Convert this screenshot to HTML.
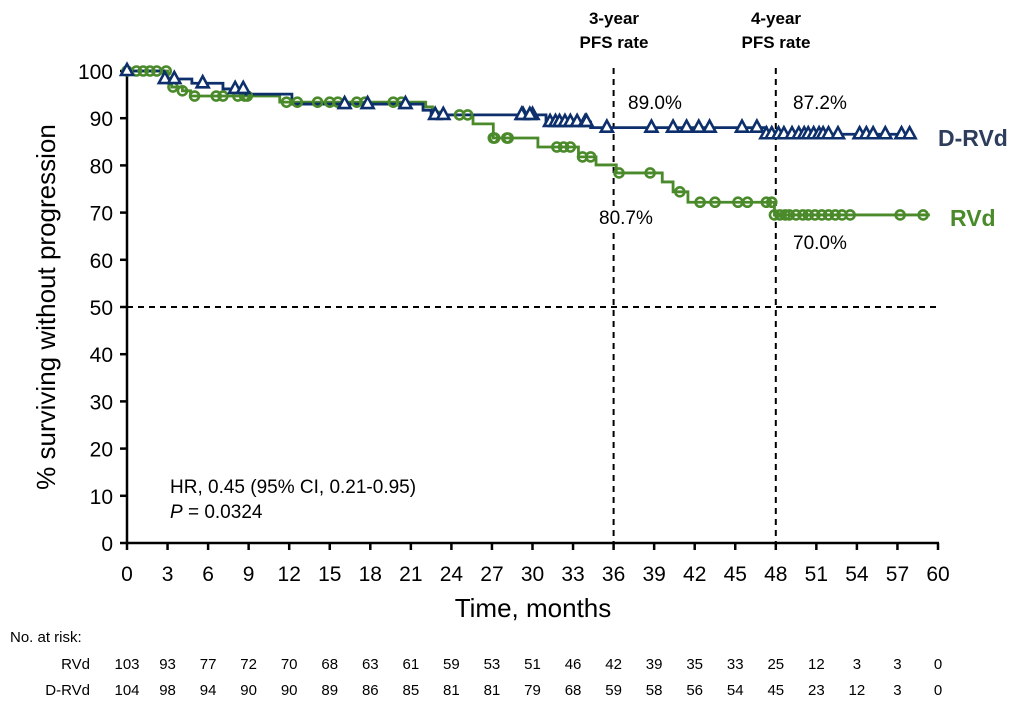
<!DOCTYPE html>
<html><head><meta charset="utf-8"><style>
body{margin:0;background:#fff;}
svg{display:block;font-family:"Liberation Sans",Arial,sans-serif;}
</style></head><body>
<svg id="chart" width="1021" height="707"></svg>
<script>
const xTicks=[0,3,6,9,12,15,18,21,24,27,30,33,36,39,42,45,48,51,54,57,60];
const yTicks=[0,10,20,30,40,50,60,70,80,90,100];
const drvdStepT=[0,2.7,4.8,7.1,8.7,12.2,21.9,22.5,31,34.3,47.3,58];
const drvdStepV=[100,98.3,97.4,96.2,95.1,93.0,91.7,90.7,89.2,88.0,86.6,86.6];
const drvdCens=[0,2.8,3.5,5.6,8.0,8.6,16.1,17.8,20.6,22.8,23.4,29.3,30.0,29.2,29.8,31.3,31.7,32.0,32.4,32.8,33.3,33.9,34.0,35.5,38.8,40.4,41.4,42.3,43.1,45.5,46.6,47.3,47.7,48.2,48.6,49.2,49.7,50.1,50.4,50.8,51.2,51.5,51.9,52.6,54.2,54.7,55.2,56.1,57.3,57.9];
const rvdStepT=[0,3.0,3.3,4.1,4.7,11.3,22.1,22.6,23.2,25.6,27.1,30.4,33.4,34.7,36.2,39.6,40.4,41.5,47.9,59.4];
const rvdStepV=[100,98.5,96.6,95.8,94.7,93.4,92.4,91.3,90.7,88.8,85.8,83.9,81.8,80.1,78.4,76.5,74.4,72.2,69.5,69.5];
const rvdCens=[0,0.7,1.2,1.7,2.2,2.9,3.4,4.1,5.0,6.6,7.1,8.2,8.7,8.9,11.8,12.6,14.1,15.0,15.6,17.0,17.6,19.7,20.3,24.6,25.2,27.2,28.1,27.1,28.2,31.8,32.3,32.8,33.7,34.3,36.4,38.7,40.9,42.4,43.5,45.2,45.9,47.3,47.7,47.9,48.3,48.7,49.0,49.5,50.0,50.4,50.9,51.4,51.9,52.4,52.9,53.5,57.2,58.9];
const riskRVd=[103,93,77,72,70,68,63,61,59,53,51,46,42,39,35,33,25,12,3,3,0];
const riskDRVd=[104,98,94,90,90,89,86,85,81,81,79,68,59,58,56,54,45,23,12,3,0];
const X0=127,X1=938,Y0=543,Y1=71;
const sx=t=>X0+t*(X1-X0)/60, sy=v=>Y0-v*(Y0-Y1)/100;
const svg=document.getElementById('chart');const NS='http://www.w3.org/2000/svg';
function mk(tag,attrs,txt){const e=document.createElementNS(NS,tag);for(const k in attrs)e.setAttribute(k,attrs[k]);if(txt!==undefined)e.textContent=txt;svg.appendChild(e);return e;}
function stepVal(T,V,t){let v=V[0];for(let i=0;i<T.length;i++){if(T[i]<=t)v=V[i];}return v;}
function stepPath(T,V){let d='M'+sx(T[0])+','+sy(V[0]);for(let i=1;i<T.length;i++){d+=' H'+sx(T[i])+' V'+sy(V[i]);}return d;}
let e;
e=mk('line',{x1:X0,x2:941,y1:sy(50),y2:sy(50),stroke:'#000','stroke-width':2,'stroke-dasharray':'6,5'});

[36,48].forEach(t=>{e=mk('line',{x1:sx(t),x2:sx(t),y1:68,y2:Y0,stroke:'#000','stroke-width':2,'stroke-dasharray':'6,5'});
});
e=mk('line',{x1:X0,x2:X0,y1:Y1-1,y2:Y0+1,stroke:'#000','stroke-width':2.5});
e=mk('line',{x1:X0-1,x2:X1+1,y1:Y0,y2:Y0,stroke:'#000','stroke-width':2.5});
yTicks.forEach(v=>{e=mk('line',{x1:X0-7,x2:X0,y1:sy(v),y2:sy(v),stroke:'#000','stroke-width':2.5});

e=mk('text',{x:X0-14,y:sy(v)+8,'text-anchor':'end','font-size':21},v);
});
xTicks.forEach((t,i)=>{e=mk('line',{x1:sx(t),x2:sx(t),y1:Y0,y2:Y0+7,stroke:'#000','stroke-width':2.5});

e=mk('text',{x:sx(t),y:581,'text-anchor':'middle','font-size':21},t);

e=mk('text',{x:sx(t),y:669,'text-anchor':'middle','font-size':15},riskRVd[i]);

e=mk('text',{x:sx(t),y:695,'text-anchor':'middle','font-size':15},riskDRVd[i]);
});
e=mk('text',{x:533,y:617,'text-anchor':'middle','font-size':26},'Time, months');
e=mk('text',{x:0,y:0,'text-anchor':'middle','font-size':26,transform:'translate(55,307) rotate(-90)'},'% surviving without progression');
const BLUE='#0d2f6b',GREEN='#4a8a2a';
e=mk('path',{d:stepPath(rvdStepT,rvdStepV),fill:'none',stroke:GREEN,'stroke-width':2.8});
e=mk('path',{d:stepPath(drvdStepT,drvdStepV),fill:'none',stroke:BLUE,'stroke-width':2.8});
rvdCens.forEach(t=>{e=mk('circle',{cx:sx(t),cy:sy(stepVal(rvdStepT,rvdStepV,t)),r:4.5,fill:'none',stroke:GREEN,'stroke-width':2.6});
});
drvdCens.forEach(t=>{const x=sx(t),y=sy(stepVal(drvdStepT,drvdStepV,t));
e=mk('polygon',{points:(x-6)+','+(y+4)+' '+(x+6)+','+(y+4)+' '+x+','+(y-7),fill:'#fff',stroke:BLUE,'stroke-width':2.6});
});
const ann=[['89.0%',628,109,'rate-3yr-drvd'],['87.2%',793,109,'rate-4yr-drvd'],['80.7%',599,224,'rate-3yr-rvd'],['70.0%',793,249,'rate-4yr-rvd']];
ann.forEach(a=>{e=mk('rect',{x:a[1]-2,y:a[2]-18,width:62,height:24,fill:'#fff'});
e=mk('text',{x:a[1],y:a[2],'font-size':19},a[0]);});
[['3-year',614,24],['PFS rate',614,48],['4-year',776,24],['PFS rate',776,48]].forEach(a=>{e=mk('text',{x:a[1],y:a[2],'text-anchor':'middle','font-size':17,'font-weight':'bold'},a[0]);
});
e=mk('text',{x:938,y:146,'font-size':23,'font-weight':'bold',fill:'#2e3d5c'},'D-RVd');
e=mk('text',{x:950,y:226,'font-size':23,'font-weight':'bold',fill:GREEN},'RVd');
e=mk('text',{x:170,y:493,'font-size':19},'HR, 0.45 (95% CI, 0.21-0.95)');
e=mk('text',{x:170,y:518,'font-size':19});e.innerHTML='<tspan font-style="italic">P</tspan> = 0.0324';
e=mk('text',{x:10,y:642,'font-size':15},'No. at risk:');
e=mk('text',{x:90,y:669,'font-size':15,'text-anchor':'end'},'RVd');
e=mk('text',{x:90,y:695,'font-size':15,'text-anchor':'end'},'D-RVd');
</script>
</body></html>
